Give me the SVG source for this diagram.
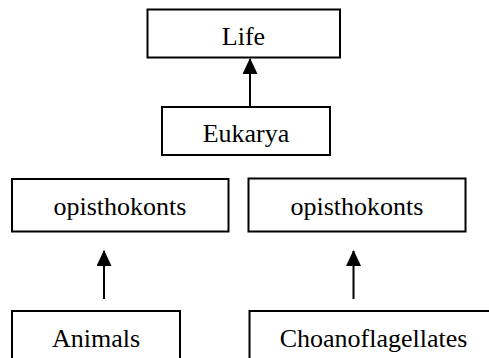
<svg xmlns="http://www.w3.org/2000/svg" width="489" height="358" viewBox="0 0 489 358">
<style>
.box{fill:#fff;stroke:#000;stroke-width:2}
.lbl{font-family:"Liberation Serif","Times New Roman",serif;font-size:26px;fill:#000;text-anchor:middle}
.edge{stroke:#000;stroke-width:2;fill:none;marker-end:url(#arr)}
</style>
<defs>
<marker id="arr" viewBox="0 0 16 15" refX="15" refY="7.5" markerWidth="16" markerHeight="15" markerUnits="userSpaceOnUse" orient="auto">
<path d="M0,0 L16,7.5 L0,15 Z" fill="#000"/>
</marker>
</defs>
<rect width="489" height="358" fill="#fff"/>
<g id="connectors">
<line class="edge" x1="250" y1="106" x2="250" y2="59"/>
<line class="edge" x1="104" y1="299" x2="104" y2="251"/>
<line class="edge" x1="353.5" y1="299" x2="353.5" y2="251"/>
</g>
<g id="life">
<rect class="box" x="147.5" y="9.5" width="192.5" height="48"/>
<text class="lbl" x="243.5" y="45">Life</text>
</g>
<g id="eukarya">
<rect class="box" x="162" y="107" width="168" height="48"/>
<text class="lbl" x="246" y="142">Eukarya</text>
</g>
<g id="opisthokonts-left">
<rect class="box" x="12" y="179" width="216.5" height="52.5"/>
<text class="lbl" x="120" y="215">opisthokonts</text>
</g>
<g id="opisthokonts-right">
<rect class="box" x="248.5" y="178.5" width="217" height="53"/>
<text class="lbl" x="357" y="215">opisthokonts</text>
</g>
<g id="animals">
<rect class="box" x="12" y="311" width="168" height="60"/>
<text class="lbl" x="96" y="347">Animals</text>
</g>
<g id="choanoflagellates">
<rect class="box" x="249.5" y="311" width="248" height="60"/>
<text class="lbl" x="373.5" y="347">Choanoflagellates</text>
</g>
</svg>
